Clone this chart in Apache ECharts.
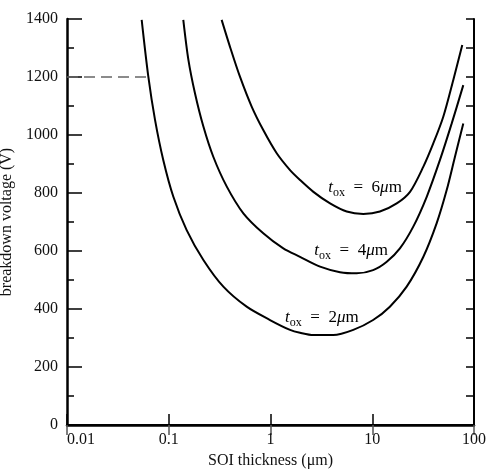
<!DOCTYPE html>
<html>
<head>
<meta charset="utf-8">
<script src="https://cdn.jsdelivr.net/npm/echarts@6/dist/echarts.min.js"></script>
<style>
  html, body { margin: 0; padding: 0; background: #fff; }
  #chart { width: 487px; height: 472px; }
</style>
</head>
<body>
<div id="chart"></div>
<script>
// SOI thickness (um) vs breakdown voltage (V)
const tox2_x = [0.0542, 0.063, 0.0733, 0.0883, 0.111, 0.150, 0.219, 0.344, 0.583, 0.989, 1.556, 1.95, 2.64, 4.14, 6.51, 10.2, 14.9, 21.8, 31.8, 43.0, 53.9, 65.0, 78.5]
const tox2_y = [1397, 1201, 1052, 914, 787, 672, 569, 477, 408, 362, 328, 318, 310, 310, 328, 362, 408, 477, 580, 696, 810, 925, 1040]

const tox4_x = [0.139, 0.156, 0.181, 0.219, 0.274, 0.372, 0.541, 0.849, 1.336, 1.95, 3.07, 4.82, 7.03, 10.2, 13.9, 18.7, 25.3, 34.3, 46.3, 60.4, 78.5]
const tox4_y = [1397, 1259, 1144, 1029, 925, 822, 730, 661, 609, 580, 546, 527, 523, 534, 563, 609, 684, 787, 914, 1040, 1172]

const tox6_x = [0.331, 0.400, 0.501, 0.653, 0.849, 1.151, 1.556, 1.95, 2.64, 3.85, 5.61, 8.17, 11.9, 17.4, 23.5, 31.8, 39.8, 49.9, 62.6, 76.7]
const tox6_y = [1397, 1304, 1201, 1098, 1017, 937, 879, 845, 804, 764, 736, 728, 736, 764, 804, 891, 971, 1063, 1190, 1310]

// dashed 1200 V reference line
const ref_x = [0.01, 0.063]
const ref_y = [1200, 1200]

// curve labels: oxide thickness + anchor (um, V)
const curve_names = ['2', '4', '6']
const label_at = [[3.2, 372], [6.2, 603], [8.5, 821]]

const xTicks = [0.01, 0.1, 1, 10, 100]

const serif = '"Liberation Serif", "DejaVu Serif", serif'

function pairs(xs, ys) {
  return xs.map((x, i) => [x, ys[i]])
}

function curve(name, xs, ys, idx) {
  return {
    name: name,
    type: 'line',
    data: pairs(xs, ys),
    smooth: 0.3,
    symbol: 'none',
    lineStyle: { color: '#000', width: 2 },
    markPoint: {
      symbol: 'rect',
      symbolSize: 1,
      itemStyle: { color: 'rgba(0,0,0,0)' },
      label: {
        show: true,
        position: 'inside',
        color: '#000',
        fontFamily: serif,
        formatter: '{i|t}{s|ox}{n|\u2002=\u2002' + curve_names[idx] + '}{i|μ}{n|m}',
        rich: {
          i: { fontStyle: 'italic', fontSize: 17, fontFamily: serif, verticalAlign: 'bottom', lineHeight: 18 },
          s: { fontSize: 12, fontFamily: serif, verticalAlign: 'bottom', lineHeight: 12, padding: [0, 0, -3, 0] },
          n: { fontSize: 17, fontFamily: serif, verticalAlign: 'bottom', lineHeight: 18 }
        }
      },
      data: [{ coord: label_at[idx] }]
    }
  }
}

const myChart = echarts.init(document.getElementById('chart'))

const axisLine = { show: true, lineStyle: { color: '#000', width: 2 } }

const option = {
  backgroundColor: '#fff',
  animation: false,
  grid: { left: 67, right: 13, top: 19, bottom: 47, outerBoundsMode: 'none', containLabel: false },
  xAxis: [
    {
      type: 'log',
      logBase: 10,
      min: 0.01,
      max: 100,
      position: 'bottom',
      axisLine: { show: true, onZero: false, lineStyle: { color: '#000', width: 2.5 } },
      axisTick: { show: true, inside: true, length: 11, lineStyle: { color: '#000', width: 1.5 } },
      splitLine: { show: false },
      axisLabel: {
        color: '#111',
        fontFamily: serif,
        fontSize: 16,
        margin: 7,
        alignMinLabel: 'left',
        formatter: function (v) {
          return String(xTicks.find(t => Math.abs(t - v) / t < 1e-6) || v)
        }
      },
      name: 'SOI thickness (μm)',
      nameLocation: 'middle',
      nameGap: 28,
      nameTextStyle: { color: '#111', fontFamily: serif, fontSize: 16 }
    },
    {
      type: 'log',
      logBase: 10,
      min: 0.01,
      max: 100,
      position: 'top',
      axisLine: axisLine,
      axisTick: { show: true, inside: true, length: 10, lineStyle: { color: '#555', width: 1.5 } },
      axisLabel: { show: false },
      splitLine: { show: false }
    }
  ],
  yAxis: [
    {
      type: 'value',
      min: 0,
      max: 1400,
      interval: 200,
      position: 'left',
      axisLine: { show: true, lineStyle: { color: '#000', width: 2.5 } },
      axisTick: { show: true, inside: true, length: 15, lineStyle: { color: '#000', width: 1.5 } },
      minorTick: { show: true, splitNumber: 2, length: 7, lineStyle: { color: '#000', width: 1.5 } },
      splitLine: { show: false },
      axisLabel: {
        color: '#111', fontFamily: serif, fontSize: 16, margin: 9,
        formatter: function (v) { return String(v) }
      },
      name: 'breakdown voltage (V)',
      nameLocation: 'middle',
      nameGap: 44,
      nameTextStyle: { color: '#111', fontFamily: serif, fontSize: 16 }
    },
    {
      type: 'value',
      min: 0,
      max: 1400,
      interval: 200,
      position: 'right',
      axisLine: axisLine,
      axisTick: { show: true, inside: true, length: 8, lineStyle: { color: '#000', width: 1.5 } },
      minorTick: { show: true, splitNumber: 2, length: 8, lineStyle: { color: '#000', width: 1.5 } },
      splitLine: { show: false },
      axisLabel: { show: false }
    }
  ],
  series: [
    curve('tox = 2μm', tox2_x, tox2_y, 0),
    curve('tox = 4μm', tox4_x, tox4_y, 1),
    curve('tox = 6μm', tox6_x, tox6_y, 2),
    {
      name: '1200 V',
      type: 'line',
      data: pairs(ref_x, ref_y),
      symbol: 'none',
      lineStyle: { color: '#666', width: 1.5, type: [11, 6] }
    }
  ]
}

myChart.setOption(option)
</script>
</body>
</html>
